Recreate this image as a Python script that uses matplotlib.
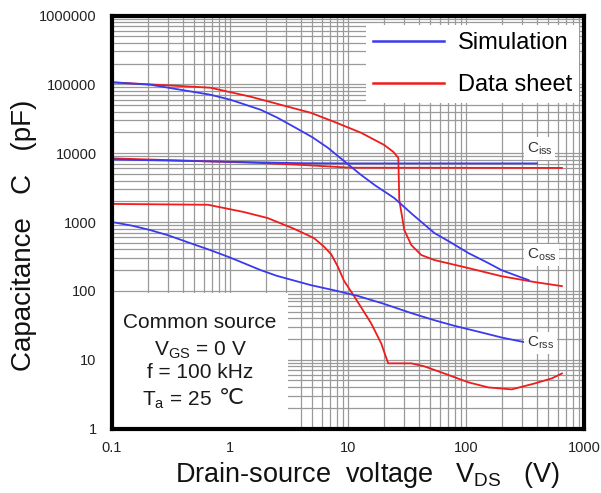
import numpy as np
import matplotlib
matplotlib.use("Agg")
import matplotlib.pyplot as plt
from matplotlib.ticker import FixedLocator, FixedFormatter, LogLocator, NullFormatter
from matplotlib.lines import Line2D

plt.rcParams['font.family'] = ['Liberation Sans', 'DejaVu Sans']
plt.rcParams['mathtext.fontset'] = 'custom'
plt.rcParams['mathtext.rm'] = 'Liberation Sans'

# data sheet (red)
coss_ds_v = [0.1, 0.68, 1.5, 3.0, 4.84, 7.6, 12.9, 20.2, 24.2, 26.7, 27.2, 30, 34.4, 41.8, 54, 105, 200, 383, 650]
coss_ds_c = [107000, 89400, 66000, 48000, 38600, 28600, 19800, 13200, 10450, 8550, 2090, 764, 462, 331, 280,
             214, 163, 134, 117]
ciss_ds_v = [0.1, 0.66, 1.82, 4.0, 10.6, 650]
ciss_ds_c = [8400, 7600, 7200, 6760, 6150, 6100]
crss_ds_v = [0.1, 0.65, 1.3, 2.08, 3.47, 5.14, 6.25, 7.2, 8.2, 9.25, 11.2, 15.7, 19.1, 21.9, 34.4, 44.3, 65.6,
             105, 155, 244, 383, 534, 650]
crss_ds_c = [1830, 1780, 1400, 1143, 800, 585, 440, 340, 225, 140, 85, 33.8, 17.3, 8.84, 8.84, 8.0, 6.3,
             4.68, 3.95, 3.70, 4.52, 5.35, 6.3]

# simulation (blue)
coss_sim_v = [0.1, 0.21, 0.68, 1.0, 1.82, 2.5, 3.47, 5, 6.76, 9, 12.9, 17, 24.6, 35, 54, 75, 105, 150, 200, 270, 340]
coss_sim_c = [107000, 98900, 70700, 60000, 42700, 33000, 24200, 17000, 11950, 8000, 4830, 3400, 2235, 1300,
              691, 500, 353, 260, 200, 165, 143]
ciss_sim_v = [0.1, 1.0, 4.0, 10.0, 400]
ciss_sim_c = [8100, 7500, 7150, 7100, 7100]
crss_sim_v = [0.1, 0.15, 0.21, 0.3, 0.45, 0.68, 1.0, 1.82, 2.5, 4.84, 8, 12.2, 20, 35, 54, 80, 144, 200, 315]
crss_sim_c = [1000, 880, 764, 640, 500, 391, 305, 200, 165, 121, 100, 84, 65, 47, 37.4, 31, 24.2, 21, 17.9]

x_ticks = [0.1, 1, 10, 100, 1000]
x_labels = ["0.1", "1", "10", "100", "1000"]
y_ticks = [1, 10, 100, 1000, 10000, 100000, 1000000]
y_labels = ["1", "10", "100", "1000", "10000", "100000", "1000000"]

blue = '#3a3aee'
red = '#ee1c1c'

fig = plt.figure(figsize=(6.01, 4.93), dpi=100)
ax = fig.add_axes([112/601, 1-428.5/493, 472/601, 413/493])
ax.set_xscale('log')
ax.set_yscale('log')
ax.set_xlim(0.1, 1000)
ax.set_ylim(1, 1000000)

ax.xaxis.set_major_locator(FixedLocator(x_ticks))
ax.xaxis.set_major_formatter(FixedFormatter(x_labels))
ax.yaxis.set_major_locator(FixedLocator(y_ticks))
ax.yaxis.set_major_formatter(FixedFormatter(y_labels))
ax.xaxis.set_minor_locator(LogLocator(base=10, subs=np.arange(2, 10)))
ax.yaxis.set_minor_locator(LogLocator(base=10, subs=np.arange(2, 10)))
ax.xaxis.set_minor_formatter(NullFormatter())
ax.yaxis.set_minor_formatter(NullFormatter())
ax.grid(True, which='both', color='#9a9a9a', lw=0.9)
ax.tick_params(which='both', length=0, labelsize=10.5, labelcolor='#222222')
ax.tick_params(axis='y', pad=11)
ax.tick_params(axis='x', pad=9)
for s in ax.spines.values():
    s.set_linewidth(3)
    s.set_color('black')
    s.set_zorder(10)

# white box behind the conditions text
ax.axvspan(0.1, 3.08, ymin=0, ymax=np.log10(92)/6, color='white', zorder=2, lw=0)

lw = 1.3
ax.plot(coss_ds_v, coss_ds_c, color=red, lw=lw, zorder=4)
ax.plot(ciss_ds_v, ciss_ds_c, color=red, lw=lw, zorder=4)
ax.plot(crss_ds_v, crss_ds_c, color=red, lw=lw, zorder=4)
ax.plot(coss_sim_v, coss_sim_c, color=blue, lw=lw, zorder=5)
ax.plot(ciss_sim_v, ciss_sim_c, color=blue, lw=lw, zorder=5)
ax.plot(crss_sim_v, crss_sim_c, color=blue, lw=lw, zorder=5)

box = dict(facecolor='white', edgecolor='none', pad=2)
ax.text(328, 11700, r"C$_{\rm iss}$", fontsize=11, color='#333333', ha='left', va='center', bbox=box, zorder=6)
ax.text(328, 330, r"C$_{\rm oss}$", fontsize=11, color='#333333', ha='left', va='center', bbox=box, zorder=6)
ax.text(328, 17.5, r"C$_{\rm rss}$", fontsize=11, color='#333333', ha='left', va='center', bbox=box, zorder=6)

# legend
handles = [Line2D([], [], color=blue, lw=1.8), Line2D([], [], color=red, lw=1.8)]
leg = ax.legend(handles, ["Simulation", "Data sheet"], loc='upper right', bbox_to_anchor=(1.0, 0.988),
                fontsize=17, frameon=True, fancybox=False, borderaxespad=0.2, labelspacing=0.85,
                handlelength=3.0, handletextpad=0.6, borderpad=0.3)
leg.get_frame().set_facecolor('white')
leg.get_frame().set_edgecolor('none')
leg.get_frame().set_alpha(1)
leg.set_zorder(7)

cond = ["Common source", r"V$_{\rm GS}$ = 0 V", "f = 100 kHz"]
cond_y = [322, 350, 372]
for t, yp in zip(cond, cond_y):
    fig.text(200/601, 1-yp/493, t, fontsize=15, ha='center', va='center', color='#1a1a1a')
fig.text(212/601, 1-400/493, r"T$_{\rm a}$ = 25", fontsize=15, ha='right', va='center', color='#1a1a1a')
fig.text(219/601, 1-398/493, "℃", fontsize=16, ha='left', va='center', color='#1a1a1a',
         family='DejaVu Sans')

fig.text(368/601, 1-482/493, r"Drain-source  voltage   V$_{\rm DS}$   (V)", fontsize=19.5,
         ha='center', va='baseline', color='#111111')
fig.text(24/601, 1-235/493, "Capacitance   C   (pF)", fontsize=20, rotation=90,
         ha='center', va='center', color='#111111')

fig.savefig('out.png', dpi=100)
